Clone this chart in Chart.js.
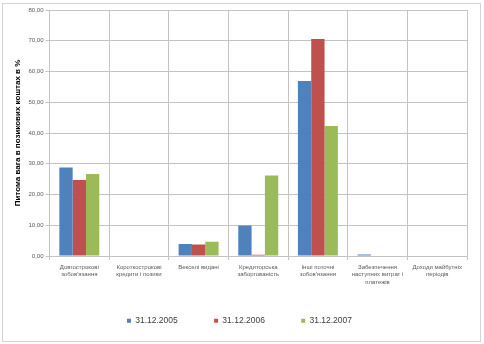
<!DOCTYPE html>
<html>
<head>
<meta charset="utf-8">
<script src="https://cdn.jsdelivr.net/npm/chart.js@4"></script>
<style>
  html, body { margin: 0; padding: 0; background: #fff; }
  #frame { position: absolute; left: 2px; top: 3px; width: 477px; height: 337px; border: 1px solid #d4d4d4; }
  #wrap { position: absolute; left: 0; top: 0; width: 484px; height: 344px; }
</style>
</head>
<body>
<div id="frame"></div>
<div id="wrap"><canvas id="chart" width="484" height="344"></canvas></div>
<script>
const categories = [
  ['Довгострокові', 'зобов\'язання'],
  ['Короткострокові', 'кредити і позики'],
  ['Векселі видані'],
  ['Кредиторська', 'заборгованість'],
  ['Інші поточні', 'зобов\'язання'],
  ['Забезпечення', 'наступних витрат і', 'платежів'],
  ['Доходи майбутніх', 'періодів'],
];
const seriesNames = ['31.12.2005', '31.12.2006', '31.12.2007'];
const values2005 = [28.8, 0, 3.9, 9.9, 56.9, 0.5, 0];
const values2006 = [24.7, 0, 3.7, 0.4, 70.6, 0, 0];
const values2007 = [26.7, 0, 4.6, 26.2, 42.3, 0, 0];
const colors = ['#4F81BD', '#C0504D', '#9BBB59'];

const gridColor = '#c4c4c4';
const font = 'Liberation Sans';
// extra gap after legend entries (legend padding also sets vertical spacing)
const legendGap = '\u00a0'.repeat(12);

const ctx = document.getElementById('chart').getContext('2d');
new Chart(ctx, {
  type: 'bar',
  data: {
    labels: categories,
    datasets: [values2005, values2006, values2007].map((vals, i) => ({
      label: seriesNames[i],
      data: vals,
      backgroundColor: colors[i],
      borderWidth: 0,
      categoryPercentage: 0.67,
      barPercentage: 1.0,
    })),
  },
  options: {
    responsive: false,
    animation: false,
    layout: { padding: { left: 12, right: 17, top: 10, bottom: 9 } },
    scales: {
      x: {
        grid: { color: gridColor, tickLength: 4, offset: true },
        border: { color: gridColor },
        ticks: {
          color: '#595959',
          font: { family: font, size: 6 },
          maxRotation: 0,
          autoSkip: false,
          padding: 4,
        },
        afterFit: scale => { scale.height = 52.5; },
      },
      y: {
        min: 0,
        max: 80,
        grid: { color: gridColor, tickLength: 4 },
        border: { color: gridColor },
        ticks: {
          stepSize: 10,
          color: '#595959',
          font: { family: font, size: 6 },
          padding: 2,
          callback: v => v.toFixed(2).replace('.', ','),
        },
        title: {
          display: true,
          text: 'Питома вага в позикових коштах в %',
          color: '#000',
          font: { family: font, size: 8, weight: 'bold' },
          padding: { top: 1, bottom: 0 },
        },
        afterFit: scale => { scale.width = 37.5; },
      },
    },
    plugins: {
      legend: {
        position: 'bottom',
        labels: {
          boxWidth: 4,
          boxHeight: 4,
          padding: 8,
          color: '#404040',
          font: { family: font, size: 8.5 },
          generateLabels: chart => {
            const items = Chart.defaults.plugins.legend.labels.generateLabels(chart);
            items.forEach((it, i) => {
              if (i < items.length - 1) it.text = it.text + legendGap;
            });
            return items;
          },
        },
      },
      tooltip: { enabled: false },
    },
  },
});
</script>
</body>
</html>
